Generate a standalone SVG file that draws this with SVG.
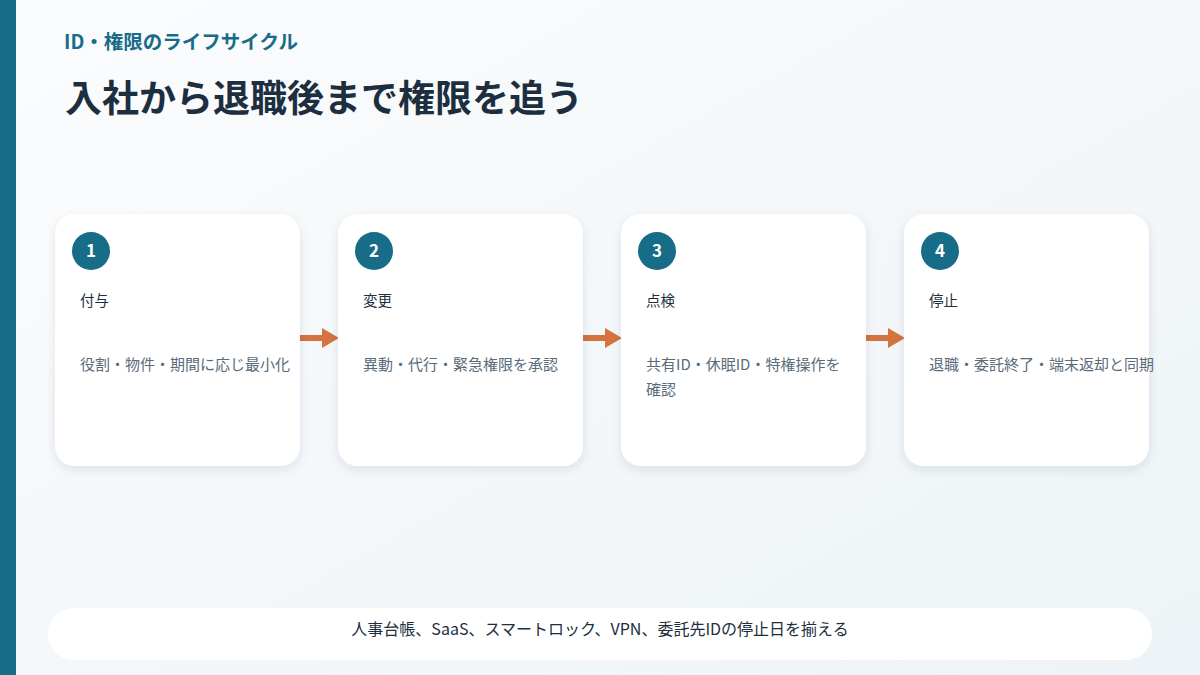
<svg xmlns="http://www.w3.org/2000/svg" width="1200" height="675" viewBox="0 0 1200 675">
<defs>
<linearGradient id="bg" x1="0" y1="0" x2="1" y2="1"><stop offset="0" stop-color="#fbfcfd"/><stop offset="1" stop-color="#edf3f6"/></linearGradient>
<filter id="sh" x="-10%" y="-10%" width="120%" height="130%"><feDropShadow dx="0" dy="4" stdDeviation="5" flood-color="#1e3a50" flood-opacity="0.10"/></filter>
<style>
text{font-family:"Noto Sans CJK JP","Noto Sans",sans-serif}
.card{fill:#fff;filter:url(#sh)}
.num{fill:#176c88}
.nt{fill:#fff;font-size:17px;font-weight:bold;text-anchor:middle}
.tt{fill:#1d2f3f;font-size:14.5px}
.ds{fill:#5a6b7a;font-size:15px}
.cn{stroke:#d4733e;stroke-width:6;fill:none}
.ah{fill:#d4733e}
</style>
</defs>
<rect width="1200" height="675" fill="url(#bg)"/>
<rect x="0" y="0" width="16" height="675" fill="#176c88"/>
<text x="64" y="49" fill="#176c88" font-size="19.5" font-weight="bold">ID・権限のライフサイクル</text>
<text x="65" y="112" fill="#1d2f3f" font-size="37" font-weight="bold">入社から退職後まで権限を追う</text>
<g id="connectors">
<path class="cn" d="M300,338 H324"/><path class="ah" d="M322,328 L339,338 L322,348 Z"/>
<path class="cn" d="M583,338 H607"/><path class="ah" d="M605,328 L622,338 L605,348 Z"/>
<path class="cn" d="M866,338 H890"/><path class="ah" d="M888,328 L905,338 L888,348 Z"/>
</g>
<g id="n1"><rect class="card" x="55" y="214" width="245" height="252" rx="20"/><circle class="num" cx="91" cy="251" r="19"/><text class="nt" x="91" y="257">1</text><text class="tt" x="80" y="306">付与</text><text class="ds" x="80" y="370">役割・物件・期間に応じ最小化</text></g>
<g id="n2"><rect class="card" x="338" y="214" width="245" height="252" rx="20"/><circle class="num" cx="374" cy="251" r="19"/><text class="nt" x="374" y="257">2</text><text class="tt" x="363" y="306">変更</text><text class="ds" x="363" y="370">異動・代行・緊急権限を承認</text></g>
<g id="n3"><rect class="card" x="621" y="214" width="245" height="252" rx="20"/><circle class="num" cx="657" cy="251" r="19"/><text class="nt" x="657" y="257">3</text><text class="tt" x="646" y="306">点検</text><text class="ds" x="646" y="370">共有ID・休眠ID・特権操作を</text><text class="ds" x="646" y="395">確認</text></g>
<g id="n4"><rect class="card" x="904" y="214" width="245" height="252" rx="20"/><circle class="num" cx="940" cy="251" r="19"/><text class="nt" x="940" y="257">4</text><text class="tt" x="929" y="306">停止</text><text class="ds" x="929" y="370">退職・委託終了・端末返却と同期</text></g>
<g id="footer"><rect x="48" y="608" width="1104" height="52" rx="26" fill="#fff"/><text x="600" y="635" fill="#1d2f3f" font-size="16" text-anchor="middle">人事台帳、SaaS、スマートロック、VPN、委託先IDの停止日を揃える</text></g>
</svg>
